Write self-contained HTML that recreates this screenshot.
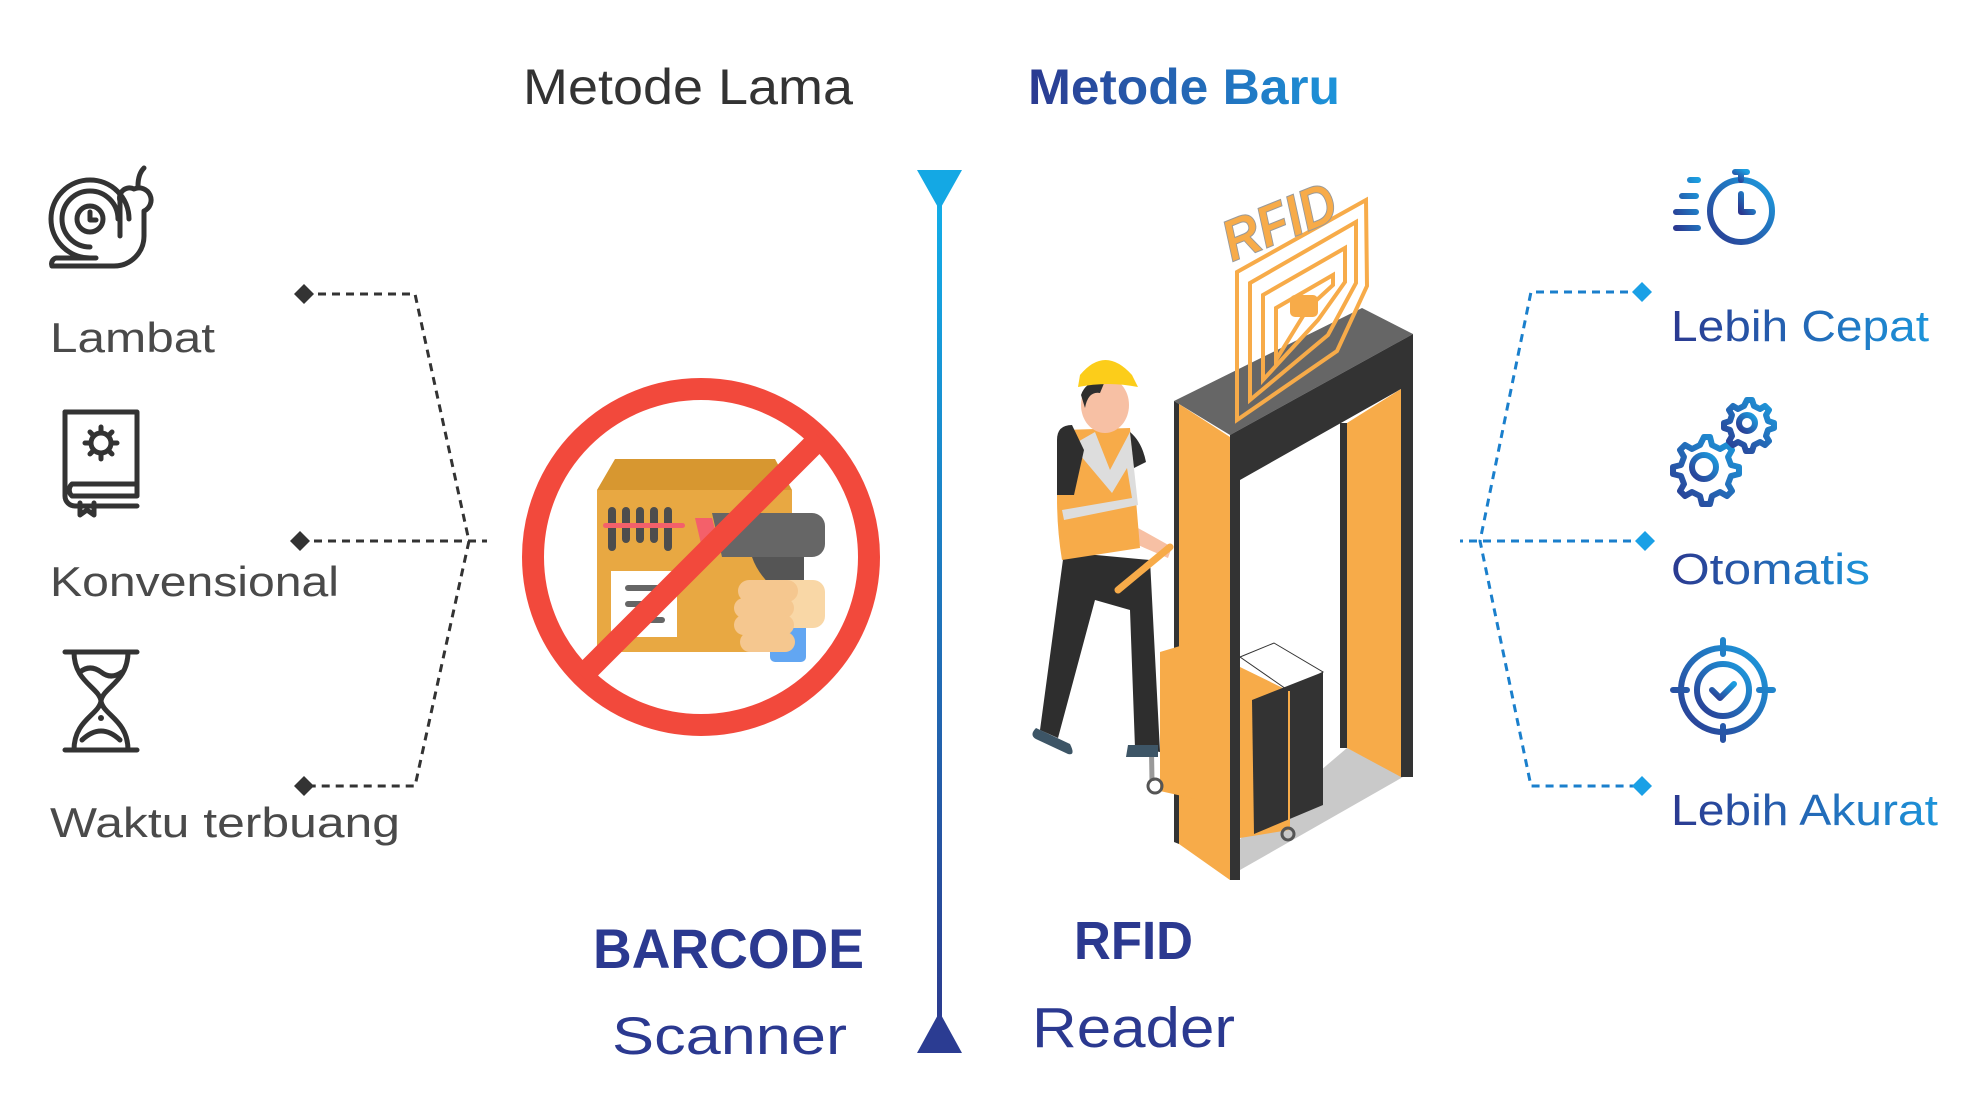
<!DOCTYPE html>
<html><head><meta charset="utf-8"><style>
html,body{margin:0;padding:0;background:#fff;}
svg{display:block;}
text{font-family:"Liberation Sans",sans-serif;}
</style></head><body>
<svg width="1986" height="1104" viewBox="0 0 1986 1104" xmlns="http://www.w3.org/2000/svg">
<defs>
<linearGradient id="vl" x1="0" y1="0" x2="0" y2="1"><stop offset="0" stop-color="#12b0ea"/><stop offset="1" stop-color="#2b3a8e"/></linearGradient>
<linearGradient id="tb" x1="0" y1="0" x2="1" y2="0"><stop offset="0" stop-color="#2b3990"/><stop offset="1" stop-color="#1c94da"/></linearGradient>
<linearGradient id="ic" x1="0" y1="1" x2="1" y2="0"><stop offset="0" stop-color="#2b3990"/><stop offset="1" stop-color="#1c9ee0"/></linearGradient>
</defs>

<!-- Titles -->
<text x="523" y="104" font-size="50" fill="#333" textLength="330" lengthAdjust="spacingAndGlyphs">Metode Lama</text>
<text x="1028" y="104" font-size="50" font-weight="bold" fill="url(#tb)" textLength="312" lengthAdjust="spacingAndGlyphs">Metode Baru</text>

<!-- vertical line -->
<rect x="937" y="185" width="5" height="845" fill="url(#vl)"/>
<polygon points="917,170 962,170 939.5,210" fill="#14a8e4"/>
<polygon points="917,1053 962,1053 939.5,1012" fill="#2b3c92"/>

<!-- left labels -->
<text x="50" y="352" font-size="42" fill="#4a4a4a" textLength="165" lengthAdjust="spacingAndGlyphs">Lambat</text>
<text x="50" y="596" font-size="42" fill="#4a4a4a" textLength="289" lengthAdjust="spacingAndGlyphs">Konvensional</text>
<text x="50" y="837" font-size="42" fill="#4a4a4a" textLength="350" lengthAdjust="spacingAndGlyphs">Waktu terbuang</text>

<!-- left icons -->
<g fill="none" stroke="#333" stroke-width="5" stroke-linecap="round" stroke-linejoin="round">
  <!-- snail -->
  <circle cx="90" cy="219" r="13"/>
  <path d="M90 212 v8 h6"/>
  <path d="M90 247 a28 28 0 1 1 28 -28"/>
  <path d="M90 258 a39 39 0 1 1 39 -39"/>
  <path d="M52 266 h62 a30 30 0 0 0 30 -30 v-25 a8 8 0 0 0 -10 -22 a10 10 0 0 0 -14 12 v35"/>
  <path d="M52 266 a6 6 0 0 1 4 -8 h40"/>
  <path d="M138 186 q0 -12 6 -18"/>
  <!-- book -->
  <path d="M65 412 h72 v84 h-65 a8 8 0 0 1 0 -12 h65"/>
  <path d="M65 412 v84 a10 10 0 0 0 10 10 h62"/>
  <path d="M80 503 v12 l7 -5 l7 5 v-12"/>
  <circle cx="101" cy="443" r="10"/>
  <path d="M101 427 v5 M101 454 v5 M85 443 h5 M112 443 h5 M90 432 l3 3 M109 451 l3 3 M112 432 l-3 3 M90 454 l3 -3"/>
  <!-- hourglass -->
  <path d="M65 652 h72 M65 750 h72"/>
  <path d="M74 652 c0 30 25 35 27 49 c2 -14 27 -19 27 -49"/>
  <path d="M74 750 c0 -30 25 -35 27 -49 c2 14 27 19 27 49"/>
  <path d="M82 740 q19 -18 38 0" />
  <path d="M80 672 q10 -8 21 0 q10 8 21 0"/>
</g>
<circle cx="101" cy="718" r="3" fill="#333"/>

<!-- left connector -->
<g fill="none" stroke="#333" stroke-width="3" stroke-dasharray="8 6">
  <path d="M304 294 H415 L469 541 L415 786 H304"/>
  <path d="M300 541 H487"/>
</g>
<g fill="#333">
  <polygon points="304,284 314,294 304,304 294,294"/>
  <polygon points="300,531 310,541 300,551 290,541"/>
  <polygon points="304,776 314,786 304,796 294,786"/>
</g>

<!-- barcode illustration -->
<polygon points="615,459 775,459 792,490 597,490" fill="#d79730"/>
<rect x="597" y="490" width="195" height="162" fill="#e8a842"/>
<g fill="#4d4d4d">
  <rect x="608" y="507" width="8" height="44" rx="4"/>
  <rect x="622" y="507" width="8" height="36" rx="4"/>
  <rect x="636" y="507" width="8" height="36" rx="4"/>
  <rect x="650" y="507" width="8" height="36" rx="4"/>
  <rect x="664" y="507" width="8" height="44" rx="4"/>
</g>
<rect x="603" y="523" width="82" height="5" rx="2.5" fill="#f4606a"/>
<rect x="611" y="571" width="66" height="66" fill="#fff"/>
<g fill="#666"><rect x="625" y="585" width="40" height="6" rx="3"/><rect x="625" y="601" width="32" height="6" rx="3"/><rect x="625" y="617" width="40" height="6" rx="3"/></g>
<path d="M752 557 h52 v30 h-32 q-15 -15 -20 -30z" fill="#555"/>
<path d="M712 513 h100 a13 13 0 0 1 13 13 v18 a13 13 0 0 1 -13 13 h-90z" fill="#666"/>
<polygon points="695,518 712,518 720,548 702,548" fill="#f4606a"/>
<rect x="770" y="598" width="36" height="64" rx="5" fill="#62a6f2"/>
<rect x="773" y="580" width="52" height="48" rx="12" fill="#f9d7a6"/>
<g fill="#f5c78f"><rect x="738" y="580" width="60" height="22" rx="11"/><rect x="734" y="598" width="60" height="20" rx="10"/><rect x="734" y="615" width="60" height="20" rx="10"/><rect x="740" y="632" width="55" height="20" rx="10"/></g>
<!-- no sign -->
<circle cx="701" cy="557" r="168" fill="none" stroke="#f2493c" stroke-width="22"/>
<line x1="820" y1="438" x2="582" y2="676" stroke="#f2493c" stroke-width="22"/>

<!-- BARCODE / Scanner -->
<text x="593" y="968" font-size="56" font-weight="bold" fill="#2b3990" textLength="271" lengthAdjust="spacingAndGlyphs">BARCODE</text>
<text x="612" y="1054" font-size="53" fill="#2b3990" textLength="235" lengthAdjust="spacingAndGlyphs">Scanner</text>
<text x="1074" y="959" font-size="54" font-weight="bold" fill="#2b3990" textLength="119" lengthAdjust="spacingAndGlyphs">RFID</text>
<text x="1032" y="1047" font-size="57" fill="#2b3990" textLength="203" lengthAdjust="spacingAndGlyphs">Reader</text>

<!-- RFID gate -->
<polygon points="1240,839 1347,748 1403,777 1240,870" fill="#c9c9c9"/>
<polygon points="1174,401 1362,308 1413,334 1230,435" fill="#666"/>
<polygon points="1230,435 1413,334 1413,777 1401,777 1401,389 1240,480 1240,880 1230,880" fill="#333"/>
<polygon points="1174,401 1179,404 1179,844 1174,842" fill="#333"/>
<polygon points="1179,404 1230,437 1230,880 1179,844" fill="#f7ab49"/>
<polygon points="1347,423 1401,389 1401,777 1347,748" fill="#f7ab49"/>
<rect x="1340" y="423" width="7" height="325" fill="#333"/>
<!-- box on cart -->
<polygon points="1160,652 1200,640 1200,800 1160,791" fill="#f7ab49"/>
<polygon points="1240,657 1274,643 1323,672 1289,691" fill="#fff" stroke="#333" stroke-width="1"/>
<polygon points="1240,667 1289,691 1289,830 1240,838" fill="#f7ab49"/>
<polygon points="1252,700 1323,672 1323,805 1254,834" fill="#333"/>
<line x1="1289" y1="691" x2="1289" y2="830" stroke="#f7ab49" stroke-width="2"/>
<circle cx="1288" cy="834" r="6" fill="none" stroke="#555" stroke-width="3"/>
<!-- RFID tag -->
<g fill="none" stroke="#f7ab49" stroke-width="4">
  <polygon points="1237,272 1366,200 1367,286 1337,351 1237,420" stroke="#f7ab49"/>
  <polygon points="1250,283 1356,222 1356,283 1328,335 1250,400"/>
  <polygon points="1263,295 1345,248 1345,282 1318,320 1263,380"/>
  <polygon points="1276,308 1333,275 1333,285 1308,308 1276,360"/>
</g>
<rect x="1290" y="295" width="28" height="22" rx="5" fill="#f7ab49"/>
<text x="1232" y="262" font-size="58" font-weight="bold" font-style="italic" fill="#f7ab49" stroke="#999" stroke-width="1" transform="rotate(-22 1232 262)" textLength="118" lengthAdjust="spacingAndGlyphs">RFID</text>
<!-- worker -->
<path d="M1121 576 L1149 600 L1152 781" fill="none" stroke="#999" stroke-width="5"/>
<circle cx="1155" cy="786" r="7" fill="none" stroke="#555" stroke-width="3"/>
<path d="M1064 552 L1040 730 L1058 738 L1095 600 L1130 610 L1135 748 L1160 752 L1150 560z" fill="#2e2e2e"/>
<path d="M1036 728 q-8 8 2 12 l30 14 q8 2 2 -10 z" fill="#3d5566"/>
<path d="M1128 745 h30 v12 h-32z" fill="#3d5566"/>
<path d="M1088 500 L1172 547 L1168 558 L1080 520z" fill="#f7c0a4"/>
<path d="M1062 430 L1130 428 L1140 548 L1062 560 q-10 -60 0 -130z" fill="#f7ab49"/>
<path d="M1067 448 L1095 432 L1110 470 L1130 432 L1138 505 L1064 520 l-2 -10 l70 -12 l-5 -30 l-15 25 L1080 455 z" fill="#ddd"/>
<path d="M1057 440 q0 -15 15 -15 l12 25 l-10 45 h-17z" fill="#2e2e2e"/>
<path d="M1130 432 q12 10 16 30 l-12 6z" fill="#2e2e2e"/>
<line x1="1118" y1="590" x2="1170" y2="547" stroke="#f7ab49" stroke-width="7" stroke-linecap="round"/>
<ellipse cx="1105" cy="405" rx="24" ry="28" fill="#f7c0a4"/>
<path d="M1081 395 q5 -15 24 -14 l-5 12 q-12 -2 -15 15z" fill="#2e2e2e"/>
<path d="M1080 375 q25 -30 52 0 l6 12 q-30 -6 -60 0z" fill="#fccd1a"/>

<!-- right connector -->
<g fill="none" stroke="#1a7fcc" stroke-width="3" stroke-dasharray="8 6">
  <path d="M1642 292 H1531 L1480 541 L1531 786 H1642"/>
  <path d="M1645 541 H1460"/>
</g>
<g fill="#1aa0e6">
  <polygon points="1642,282 1652,292 1642,302 1632,292"/>
  <polygon points="1645,531 1655,541 1645,551 1635,541"/>
  <polygon points="1642,776 1652,786 1642,796 1632,786"/>
</g>

<!-- right labels -->
<text x="1671" y="341" font-size="44" fill="url(#tb)" textLength="258" lengthAdjust="spacingAndGlyphs">Lebih Cepat</text>
<text x="1671" y="584" font-size="44" fill="url(#tb)" textLength="199" lengthAdjust="spacingAndGlyphs">Otomatis</text>
<text x="1671" y="825" font-size="44" fill="url(#tb)" textLength="267" lengthAdjust="spacingAndGlyphs">Lebih Akurat</text>

<!-- right icons -->
<g fill="none" stroke="url(#ic)" stroke-width="6" stroke-linecap="round" stroke-linejoin="round">
  <circle cx="1741" cy="211" r="31"/>
  <path d="M1741 180 v-8 M1735 172 h12"/>
  <path d="M1741 194 v18 h12"/>
  <path d="M1690 180 h8 M1682 196 h14 M1676 212 h20 M1676 228 h22"/>
  <!-- gears -->
  <circle cx="1704" cy="467" r="12"/>
  <path d="M1704 437 l6 0 l2 8 l8 4 l7 -4 l5 5 l-4 7 l3 8 l8 2 v7 l-8 2 l-3 8 l4 7 l-5 5 l-7 -4 l-8 4 l-2 8 h-8 l-2 -8 l-8 -4 l-7 4 l-5 -5 l4 -7 l-3 -8 l-8 -2 v-7 l8 -2 l3 -8 l-4 -7 l5 -5 l7 4 l8 -4 z"/>
  <circle cx="1747" cy="423" r="8"/>
  <path d="M1747 400 l5 0 l2 6 l6 3 l5 -3 l4 4 l-3 5 l2 6 l6 2 v5 l-6 2 l-2 6 l3 5 l-4 4 l-5 -3 l-6 3 l-2 6 h-6 l-2 -6 l-6 -3 l-5 3 l-4 -4 l3 -5 l-2 -6 l-6 -2 v-5 l6 -2 l2 -6 l-3 -5 l4 -4 l5 3 l6 -3 z"/>
  <!-- target -->
  <circle cx="1723" cy="690" r="42"/>
  <circle cx="1723" cy="690" r="26"/>
  <path d="M1723 640 v14 M1723 726 v14 M1673 690 h14 M1759 690 h14"/>
  <path d="M1712 690 l8 8 l14 -14"/>
</g>
</svg>
</body></html>
